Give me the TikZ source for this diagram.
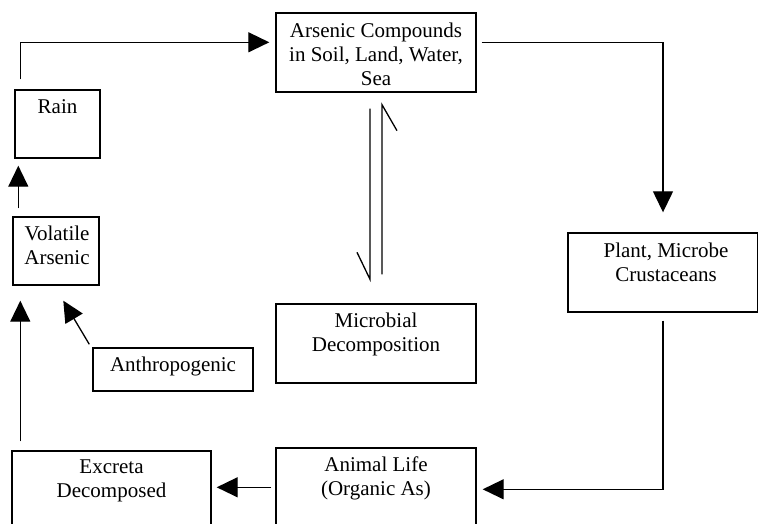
\documentclass[tikz,border=0pt]{standalone}
\usepackage{fontspec}
\setmainfont{Liberation Serif}
\usetikzlibrary{arrows.meta}
\tikzset{
  box/.style={draw, line width=1.4pt, rectangle, inner sep=0pt},
  lbl/.style={anchor=north, align=center, inner sep=0pt, font=\fontsize{21}{24}\selectfont},
  conn/.style={line width=1.3pt},
  arr/.style={conn, -{Triangle[length=21pt,width=20pt]}},
}
\begin{document}
\begin{tikzpicture}[x=1pt,y=-1pt]
\useasboundingbox (0,0) rectangle (758,524);
\clip (0,0) rectangle (758,524);
% boxes
\node[box, minimum width=200pt, minimum height=79pt] (ars) at (376,52.5) {};
\node[box, minimum width=85pt, minimum height=68pt] (rain) at (57.5,124) {};
\node[box, minimum width=86pt, minimum height=68pt] (vol) at (56,251) {};
\node[box, minimum width=160pt, minimum height=43pt] (anth) at (173,369.5) {};
\node[box, minimum width=200pt, minimum height=79pt] (micro) at (376,343.5) {};
\node[box, minimum width=190pt, minimum height=79pt] (plant) at (663,272.5) {};
\node[box, minimum width=199pt, minimum height=80pt] (excr) at (111.5,491) {};
\node[box, minimum width=200pt, minimum height=82pt] (anim) at (376,489) {};
% labels
\node[lbl] (arsT) at (376,23) {Arsenic Compounds\\in Soil, Land, Water,\\Sea};
\node[lbl] (rainT) at (57.5,99) {Rain};
\node[lbl] (volT) at (57,226) {Volatile\\Arsenic};
\node[lbl] (anthT) at (173,357) {Anthropogenic};
\node[lbl] (microT) at (376,313) {Microbial\\Decomposition};
\node[lbl] (plantT) at (666,243) {Plant, Microbe\\Crustaceans};
\node[lbl] (excrT) at (111.5,460) {Excreta\\Decomposed};
\node[lbl] (animT) at (376,457) {Animal Life\\(Organic As)};
% connectors
\draw[arr] ([shift={(6pt,10pt)}]rain.north west) |- ([shift={(-6pt,-30pt)}]ars.north west);
\draw[arr] ([shift={(5pt,-30pt)}]ars.north east) -| ([yshift=20pt]plant.north);
\draw[arr] ([yshift=-8pt]plant.south) |- ([shift={(6pt,-42pt)}]anim.north east);
\draw[arr] ([shift={(-4pt,-40pt)}]anim.north west) -- ([shift={(5pt,-37pt)}]excr.north east);
\draw[arr] ([shift={(9pt,9pt)}]excr.north west) -- ([shift={(8pt,-15pt)}]vol.south west);
\draw[arr] ([shift={(-3pt,3pt)}]anth.north west) -- ([shift={(51pt,-15pt)}]vol.south west);
\draw[arr] ([shift={(6pt,8pt)}]vol.north west) -- ([shift={(4pt,-7pt)}]rain.south west);
% equilibrium half-arrows
\draw[conn] ([shift={(-6pt,-16pt)}]ars.south) -- ([shift={(-6pt,24pt)}]micro.north) -- ++(-13pt,27pt);
\draw[conn] ([shift={(6pt,29pt)}]micro.north) -- ([shift={(6pt,-12pt)}]ars.south) -- ++(15pt,-26pt);
\end{tikzpicture}
\end{document}
